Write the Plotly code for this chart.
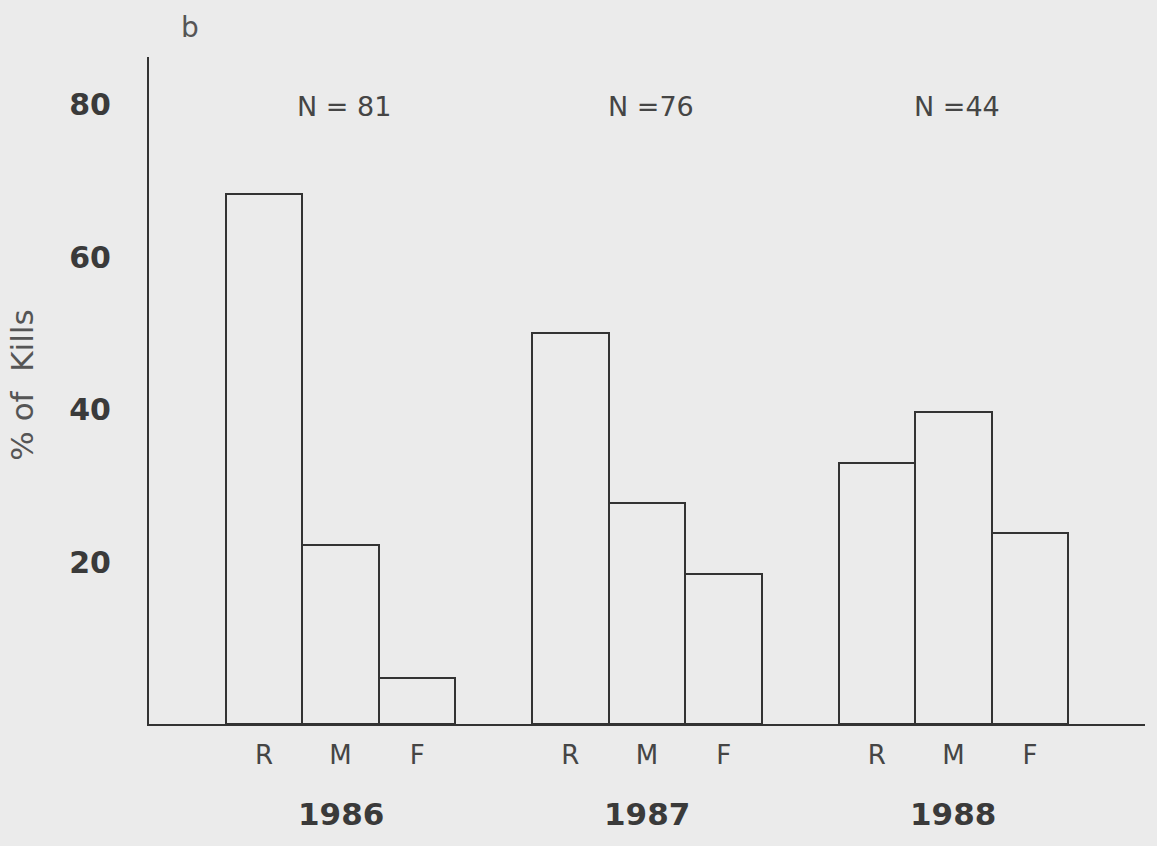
import plotly.graph_objects as go

# ---- data ----
years = ["1986", "1987", "1988"]
sample_sizes = ["N = 81", "N =76", "N =44"]
classes = ["R", "M", "F"]
pct_1986 = [69.5, 23.5, 6.0]
pct_1987 = [51.3, 29.0, 19.7]
pct_1988 = [34.2, 40.9, 25.0]
y_ticks = [20, 40, 60, 80]

series = [pct_1986, pct_1987, pct_1988]

BG = "#ebebeb"
LINE = "#333333"
TXT = "#454545"
BOLD_TXT = "#3a3a3a"

# layout: each group occupies 3 slots, groups separated by one empty slot
def slot_center(group, idx):
    return 1 + group * 4 + idx + 0.5

fig = go.Figure()
xs, ys, labels = [], [], []
for g, vals in enumerate(series):
    for i, v in enumerate(vals):
        xs.append(slot_center(g, i))
        ys.append(v)
        labels.append(classes[i])

fig.add_trace(go.Bar(
    x=xs, y=ys, width=1,
    marker=dict(color="rgba(0,0,0,0)", line=dict(color=LINE, width=2)),
    hoverinfo="skip", showlegend=False,
))

annotations = []
for g, yr in enumerate(years):
    xm = slot_center(g, 1)
    annotations.append(dict(
        x=xm, xref="x", y=0, yref="paper", yshift=-90, yanchor="middle",
        text=yr, showarrow=False,
        font=dict(family="DejaVu Sans", size=31, color=BOLD_TXT, weight="bold"),
    ))
    annotations.append(dict(
        x=xm + 0.05, xref="x", y=0.9265, yref="paper", yanchor="middle",
        text=sample_sizes[g], showarrow=False,
        font=dict(family="DejaVu Sans", size=27, color=TXT),
    ))

annotations.append(dict(
    x=0.0412, xref="paper", y=1.0435, yref="paper", xanchor="center", yanchor="middle",
    text="b", showarrow=False,
    font=dict(family="DejaVu Sans", size=28, color="#555555"),
))
annotations.append(dict(
    x=-0.127, xref="paper", y=0.508, yref="paper", xanchor="center", yanchor="middle",
    text="% of  Kills", textangle=-90, showarrow=False,
    font=dict(family="DejaVu Sans", size=31, color="#555555"),
))

fig.update_layout(
    width=1157, height=846,
    paper_bgcolor=BG, plot_bgcolor=BG,
    margin=dict(l=149, r=12, t=57, b=122),
    bargap=0,
    annotations=annotations,
    xaxis=dict(
        range=[0, 13], showgrid=False, zeroline=False,
        showline=True, linecolor=LINE, linewidth=2,
        tickvals=xs, ticktext=labels, ticks="",
        tickfont=dict(family="DejaVu Sans", size=26, color=TXT),
        ticklabelstandoff=7,
    ),
    yaxis=dict(
        range=[0, 87.4], showgrid=False, zeroline=False,
        showline=True, linecolor=LINE, linewidth=2,
        tickvals=y_ticks, ticktext=[str(t) for t in y_ticks], ticks="",
        tickfont=dict(family="DejaVu Sans", size=30, color=BOLD_TXT, weight="bold"),
        ticklabelstandoff=30, ticklabelshift=-9,
    ),
)

fig.write_html("out.html", config={"displayModeBar": False})
